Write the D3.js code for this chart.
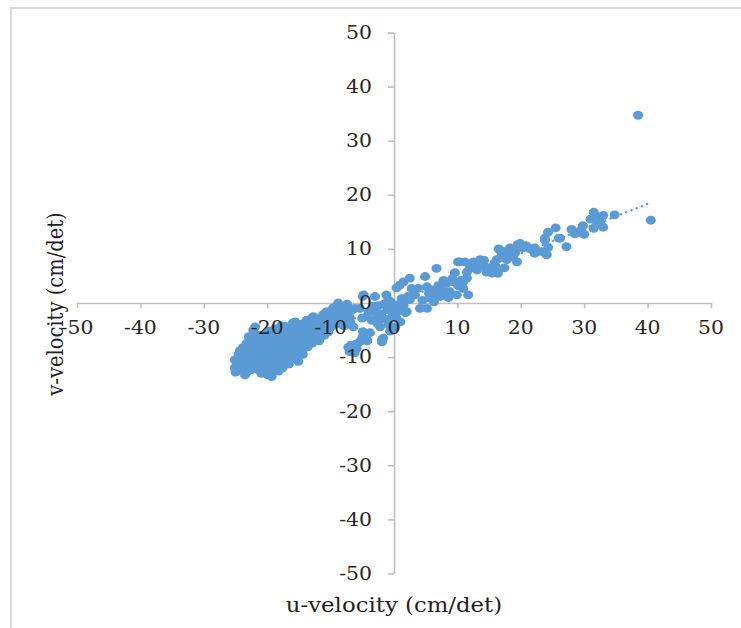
<!DOCTYPE html>
<html>
<head>
<meta charset="utf-8">
<script src="https://cdn.jsdelivr.net/npm/d3@7"></script>
<style>
  body { margin: 0; background: #fff; }
  svg { display: block; }
</style>
</head>
<body>
<div id="chart"></div>
<script>
// u / v velocity pairs (cm/det)
const uVel = [
  // left cluster
  -25.1,-25.1,-24.6,-25,-23.5,-24,-24.5,-23.8,-23.2,-23,-22.8,-22.5,-22.2,-21.9,-21.8,-21.5,-21.4,-21.2,-21,-20.9,
  -20.6,-20.4,-20.2,-20,-19.9,-19.8,-19.5,-19.3,-19.2,-19,-18.8,-18.7,-18.5,-18.3,-18,-17.8,-17.6,-17.4,-17.2,-17,
  -16.8,-16.6,-16.4,-16.2,-16,-15.9,-15.8,-15.6,-15.5,-15.3,-15.1,-14.9,-14.7,-14.5,-14.2,-14,-13.8,-13.6,-13.4,-13.2,
  -13,-12.8,-12.7,-12.5,-12.2,-12,-11.8,-11.5,-11.2,-11,-10.9,-10.6,-10.4,-10.2,-10,-9.8,-9.6,-9.3,-9,-8.8,
  -8.8,-8.5,-8.3,-8,-7.6,-7.2,
  -23.8,-22.6,-22,-21.7,-20.8,-20.3,-19.6,-19.1,-18.9,-18.2,-18.1,-17.5,-17.3,-16.9,-16.7,-16.3,-15.7,-15.4,-14.8,-14.4,
  -14.1,-13.7,-13.3,-12.9,-24.3,-23.4,-22.9,-22.3,-21.1,-20.5,-19.7,-19.4,-18.6,-17.9,-17.1,-16.5,-15.2,-14.6,
  -24.8,-24.2,-23.6,-23.1,-22.7,-22.4,-22.1,-21.6,-21.3,-21,-20.7,-20.1,-19.8,-19.5,-19,-18.7,-18.4,-18,-17.7,-17.4,
  -16.9,-16.6,-16.1,-15.9,-15.4,-14.9,-14.3,-13.9,-13.5,-12.6,-12.3,-11.7,-11.4,-10.8,-10.3,-9.9,-9.4,-8.9,-8.2,-7.8,
  -7.4,-23.3,-22.9,-21.9,-20.4,-19.2,-18.4,-17.8,-16.9,
  // stem below centre
  -6.5,-5.9,-5.4,-4.9,-3.8,-5,-6,-4.4,-6.8,-7.2,-7,-6.2,-4.2,-1.9,-1.7,-2.2,-1.9,
  // centre
  -7,-6.5,-6.2,-5.4,-5,-4.8,-4.9,-4.3,-3.5,-3,-3,-2.6,-2.5,-2,-1.5,-1.2,-1,-0.8,-0.5,-0.3,
  0,0.4,0.4,0.6,0.9,1,1.2,1.5,1.5,1.8,2,2.2,2.5,2.5,2.8,3,-1.6,-0.6,0.2,-2.8,
  -9.6,-8.6,-7.8,-6.9,-6.4,-9.2,-8,-7.4,-4,-3.3,-0.9,0.8,
  // right band
  3.3,3.8,4.1,4.5,4.9,5.2,5.2,5.5,5.7,5.7,6,6.3,6.7,6.8,7,7.3,7.3,7.8,8,8.3,
  8.6,8.8,9.2,9.4,9.6,9.9,10.1,10.1,10.4,10.6,10.9,10.9,11.2,11.5,11.5,11.7,12,12.5,12.8,13.1,
  13.6,13.8,14.4,15.1,15.6,15.8,16.2,16.5,16.7,17,17.4,17.8,18.3,18.5,19.1,19.4,19.9,20.3,20.8,22.2,
  22.2,23.8,24.1,24.3,24.3,25.5,26,27.2,28,28.5,29,29.8,30,31,31.5,31.5,32,32,32.5,33,
  33,34.8,38.5,40.5,14.2,14.6,15.5,16.4,16,17.5,18.8,19.5,21.5,23.3,23.8,26.2,29.5
];
const vVel = [
  -10.5,-12,-12.4,-12.8,-13.3,-11,-9.5,-8.2,-7.4,-9.6,-11.2,-12.3,-5,-4.4,-6.5,-8,-9.3,-10.6,-11.8,-13,
  -7.2,-5.8,-9,-10.2,-13.3,-11.5,-6.5,-13.6,-8.1,-12.3,-4.8,-9.8,-11,-7,-5.8,-8.6,-12,-10.2,-4.3,-6.8,
  -9.4,-11.3,-5.2,-7.8,-3.8,-3.7,-9,-3.5,-6.2,-10.2,-10.8,-5,-7.3,-8.7,-4.2,-6,-3.2,-8.1,-5.3,-7,
  -2.8,-4.4,-2.5,-6.1,-3.6,-5.4,-7,-4.5,-2.2,-6,-1.9,-1.6,-5.4,-3.5,-4.5,-2.6,-0.9,-1.3,-3.8,-0.4,
  0,-0.7,-2.4,-4.2,-1.8,-3,
  -10,-8.6,-10.4,-7.3,-8.8,-11.4,-9.6,-7.4,-10.6,-12.6,-9.2,-7.6,-11,-5.6,-8.2,-10.4,-7,-8.3,-6.5,-9.5,
  -5.5,-6.8,-4,-7.4,-8.8,-10.6,-6.2,-9.4,-6,-12.4,-5.2,-10.8,-6.2,-11.4,-9.8,-6.6,-4.6,-3.9,
  -11.3,-10.2,-11.8,-12.6,-10,-7.2,-11.6,-9.9,-12.4,-7.8,-10.4,-8.3,-7.4,-12.2,-9.2,-11.8,-8.2,-10.2,-6.4,-8.8,
  -10.6,-7.2,-9.2,-5.8,-7.6,-8.2,-7.2,-4.8,-6,-5,-4.2,-3,-5.6,-3.4,-2.4,-3.6,-2.2,-1.6,-3.4,-2.6,
  -1.4,-8.8,-9.1,-8.4,-6.6,-5.6,-5.2,-4.2,-4.6,
  -8.7,-8.4,-7.2,-5.3,-5.5,-6.4,-7.6,-6.5,-7.8,-8.2,-9,-9.2,-7,-7.2,-6.5,-4.4,-6.8,
  -2.6,-1.2,-1,-1,-2.8,1.5,1.2,-2.5,-3.2,1.2,-1.5,-3.8,-0.5,-2,-3,1.5,-1.2,-4,0.2,-2.5,
  -1.2,2.8,-2.8,-0.5,3.3,-3.5,0.8,-0.4,3.9,-1.8,-1.6,1.2,0.6,4.6,2.7,1.5,-0.2,-5.2,-4.5,-2.6,
  -3.2,-2,-4.2,-3.4,-4.4,-1.8,-1.4,-0.2,-1.6,-0.6,0.6,-1.4,
  1.5,2.7,-1,0.5,4.9,3,-1,1.8,0.9,1.5,2.4,0.2,6.4,1.6,3.2,2.7,1.2,4.2,2,3.6,
  1,2.1,4.5,3.9,5.6,1.5,7.6,3.2,7.6,4.2,2.7,3.9,7.6,4.6,5.7,1.5,6.5,7.6,6.4,6.1,
  8,7.2,6.7,6.1,6.7,7.3,8,10,9.8,8.8,6.5,8,10.2,9,9.3,7.6,11,10.2,10.6,10.2,
  9.2,11.6,8.9,13.1,10.3,13.9,12,10.4,13.6,12.8,13,14.3,12.7,15.5,16.8,13.8,16,14.5,15,16.2,
  14,16.3,34.7,15.3,7.9,5.7,5.5,5.5,6.8,9.5,8.5,10.8,10,9.5,12,12,13.5
];
const tickValues = [-50, -40, -30, -20, -10, 0, 10, 20, 30, 40, 50];
const xTitle = "u-velocity (cm/det)";
const yTitle = "v-velocity (cm/det)";

const points = uVel.map((u, i) => ({u: u, v: vVel[i]}));

const w = 741, h = 628;
const blue = "#5b9bd5";
const axisColor = "#bfbfbf";
const font = "'DejaVu Serif', serif";

const svg = d3.select("#chart").append("svg")
  .attr("width", w)
  .attr("height", h);

// frame
svg.append("rect")
  .attr("x", 11).attr("y", 8)
  .attr("width", w + 10).attr("height", h + 10)
  .attr("fill", "#fff")
  .attr("stroke", "#d9d9d9")
  .attr("stroke-width", 2);

const xScale = d3.scaleLinear().domain([-50, 50]).range([77, 711]);
const yScale = d3.scaleLinear().domain([-50, 50]).range([573.5, 32.5]);

// axes (lines + ticks)
const xAxis = d3.axisBottom(xScale).tickValues(tickValues).tickSize(5).tickSizeOuter(0).tickFormat(d => d);
const yAxis = d3.axisLeft(yScale).tickValues(tickValues).tickSize(6).tickSizeOuter(0).tickFormat(d => d);

const gx = svg.append("g")
  .attr("transform", "translate(0," + yScale(0) + ")")
  .call(xAxis);
const gy = svg.append("g")
  .attr("transform", "translate(" + xScale(0) + ",0)")
  .call(yAxis);

[gx, gy].forEach(g => {
  g.select(".domain").attr("stroke", axisColor).attr("stroke-width", 1.6);
  g.selectAll(".tick line").attr("stroke", axisColor).attr("stroke-width", 1.6);
});

// tick labels are redrawn on top of the dots
gx.selectAll(".tick text").remove();
gy.selectAll(".tick text").remove();

// dots
svg.append("g")
  .selectAll("ellipse")
  .data(points)
  .enter()
  .append("ellipse")
  .attr("cx", d => xScale(d.u))
  .attr("cy", d => yScale(d.v))
  .attr("rx", 5)
  .attr("ry", 4.4)
  .attr("fill", blue);

// linear trendline (least squares over the points)
const mu = d3.mean(points, d => d.u), mv = d3.mean(points, d => d.v);
const slope = d3.sum(points, d => (d.u - mu) * (d.v - mv)) / d3.sum(points, d => (d.u - mu) * (d.u - mu));
const icpt = mv - slope * mu;
const [uMin, uMax] = d3.extent(points, d => d.u);
svg.append("line")
  .attr("x1", xScale(uMin)).attr("y1", yScale(slope * uMin + icpt))
  .attr("x2", xScale(uMax)).attr("y2", yScale(slope * uMax + icpt))
  .attr("stroke", blue)
  .attr("stroke-width", 2.4)
  .attr("stroke-linecap", "round")
  .attr("stroke-dasharray", "0.1 5.5");

// tick labels
const labelLayer = svg.append("g");
labelLayer.selectAll(".xl")
  .data(tickValues)
  .enter()
  .append("text")
  .attr("class", "xl")
  .attr("transform", d => "translate(" + xScale(d) + "," + (yScale(0) + 31) + ") scale(1.1,1)")
  .attr("text-anchor", "middle")
  .style("font-family", font)
  .style("font-size", "18.5px")
  .attr("fill", "#262626")
  .text(d => d);

labelLayer.selectAll(".yl")
  .data(tickValues)
  .enter()
  .append("text")
  .attr("class", "yl")
  .attr("transform", d => "translate(" + (xScale(0) - 22) + "," + yScale(d) + ") scale(1.1,1)")
  .attr("text-anchor", "end")
  .attr("dy", "0.34em")
  .style("font-family", font)
  .style("font-size", "18.5px")
  .attr("fill", "#262626")
  .text(d => d);

// axis titles
svg.append("text")
  .attr("transform", "translate(394,612) scale(1.17,1)")
  .attr("text-anchor", "middle")
  .style("font-family", font)
  .style("font-size", "19.5px")
  .attr("fill", "#1f1f1f")
  .text(xTitle);

svg.append("text")
  .attr("transform", "translate(63,304) scale(1.17,1) rotate(-90)")
  .attr("text-anchor", "middle")
  .style("font-family", font)
  .style("font-size", "19.5px")
  .attr("fill", "#1f1f1f")
  .text(yTitle);
</script>
</body>
</html>
